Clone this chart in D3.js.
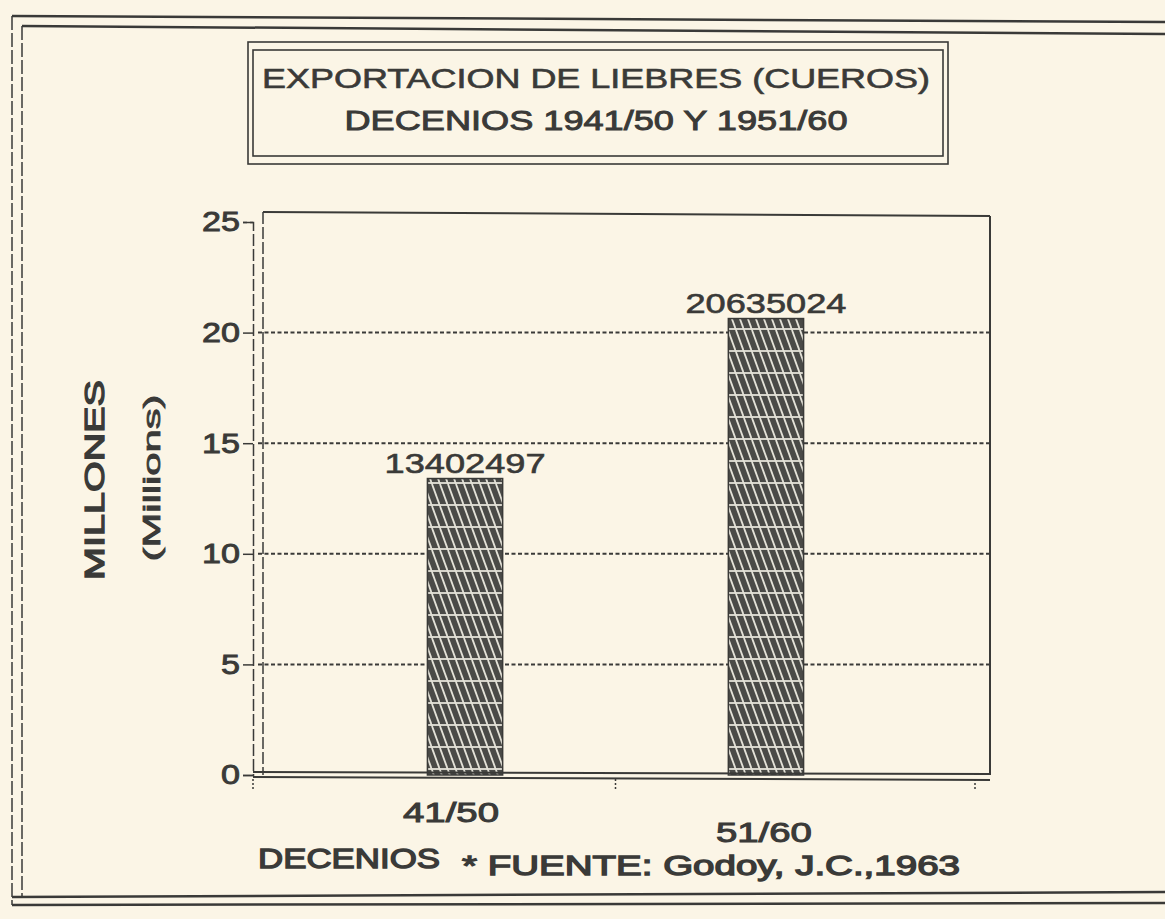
<!DOCTYPE html>
<html><head><meta charset="utf-8">
<script src="https://cdn.jsdelivr.net/npm/d3@7"></script>
<style>
html,body{margin:0;padding:0;background:#fbf5e6;}
svg{display:block;}
text{font-family:"Liberation Sans",Arial,sans-serif;fill:#3a3a38;}
</style></head>
<body>
<svg id="c" width="1165" height="919"></svg>
<script>
const categories = ["41/50", "51/60"];
const values = [13402497, 20635024];
const yTicks = [0, 5, 10, 15, 20, 25];
const titleLines = ["EXPORTACION DE LIEBRES (CUEROS)", "DECENIOS 1941/50 Y 1951/60"];

const svg = d3.select("#c");
const ink = "#3a3a38";

function txt(g, x, y, s, size, len, anchor, sw){
  const t = g.append("text").attr("x",x).attr("y",y).attr("font-size",size)
    .attr("text-anchor",anchor||"start")
    .attr("stroke",ink).attr("stroke-width",sw||0.6).text(s);
  if (len) t.attr("textLength",len).attr("lengthAdjust","spacingAndGlyphs");
  return t;
}

// pattern for bars
const defs = svg.append("defs");
const pat = defs.append("pattern").attr("id","hatch").attr("patternUnits","userSpaceOnUse")
  .attr("width",8).attr("height",22);
pat.append("rect").attr("width",8).attr("height",22).attr("fill","#4a4a47");
[-16,-8,0,8,16].forEach(o=>{
  pat.append("line").attr("x1",o).attr("y1",0).attr("x2",o+8).attr("y2",22)
    .attr("stroke","#e4e2d8").attr("stroke-width",1.8);
});
pat.append("line").attr("x1",0).attr("y1",21).attr("x2",8).attr("y2",21).attr("stroke","#e4e2d8").attr("stroke-width",1.8);

// outer frame
svg.append("line").attr("x1",12).attr("x2",1165).attr("y1",16).attr("y2",22).attr("stroke",ink).attr("stroke-width",2.5);
svg.append("line").attr("x1",22).attr("x2",1165).attr("y1",26).attr("y2",34).attr("stroke",ink).attr("stroke-width",2.5);
svg.append("line").attr("x1",12).attr("x2",12).attr("y1",16).attr("y2",905).attr("stroke",ink).attr("stroke-width",1.5).attr("stroke-dasharray","14,3");
svg.append("line").attr("x1",22).attr("x2",22).attr("y1",26).attr("y2",897).attr("stroke",ink).attr("stroke-width",1.5).attr("stroke-dasharray","14,3");
svg.append("line").attr("x1",12).attr("x2",1165).attr("y1",897).attr("y2",892).attr("stroke",ink).attr("stroke-width",2.5);
svg.append("line").attr("x1",12).attr("x2",1165).attr("y1",905).attr("y2",903).attr("stroke",ink).attr("stroke-width",2.5);

// title box
const tb = {x:248, y:42, w:700, h:122};
svg.append("rect").attr("x",tb.x).attr("y",tb.y).attr("width",tb.w).attr("height",tb.h).attr("fill","none").attr("stroke",ink).attr("stroke-width",1.6);
svg.append("rect").attr("x",tb.x+5).attr("y",tb.y+8).attr("width",tb.w-10).attr("height",tb.h-16).attr("fill","none").attr("stroke",ink).attr("stroke-width",1.6);
const tg = svg.append("g");
txt(tg, 596, 88, titleLines[0], 27, 668, "middle");
txt(tg, 596, 130, titleLines[1], 27, 503, "middle", 0.9);

// scales
const m = {left:258, right:990, top:222, bottom:775};
const y = d3.scaleLinear().domain([0,25]).range([m.bottom, m.top]);
const x = d3.scaleBand().domain(categories).range([m.left, 973]).paddingInner(0.75).paddingOuter(0.563);

// grid
svg.append("g").selectAll("line").data(yTicks.filter(t=>t>0&&t<25)).join("line")
  .attr("x1",m.left).attr("x2",m.right).attr("y1",d=>y(d)).attr("y2",d=>y(d))
  .attr("stroke",ink).attr("stroke-width",2).attr("stroke-dasharray","4,2.5");

// plot frame
svg.append("line").attr("x1",m.left+5).attr("x2",m.right).attr("y1",m.top-10).attr("y2",m.top-6).attr("stroke",ink).attr("stroke-width",2);
svg.append("line").attr("x1",m.right).attr("x2",m.right).attr("y1",m.top-6).attr("y2",m.bottom).attr("stroke",ink).attr("stroke-width",2);

// bars
svg.append("g").selectAll("rect").data(values).join("rect")
  .attr("x",(d,i)=>x(categories[i])).attr("width",x.bandwidth())
  .attr("y",d=>y(d/1e6)).attr("height",d=>y(0)-y(d/1e6))
  .attr("fill","url(#hatch)").attr("stroke",ink).attr("stroke-width",1.5);
const vg = svg.append("g");
values.forEach((v,i)=>txt(vg, x(categories[i])+x.bandwidth()/2, y(v/1e6)-6, String(v), 27, 161, "middle"));

// y axis (double line)
const yAxis = d3.axisLeft(y).tickValues(yTicks).tickSize(10).tickPadding(3);
const gy = svg.append("g").attr("transform",`translate(${m.left-5},0)`).call(yAxis);
gy.select(".domain").attr("stroke",ink).attr("stroke-width",1.5).attr("stroke-dasharray","12,3");
gy.selectAll(".tick line").attr("stroke",ink).attr("stroke-width",1.5);
gy.selectAll(".tick text").attr("font-size",28).attr("fill",ink).attr("stroke",ink).attr("stroke-width",0.9)
  .attr("font-family","Liberation Sans, Arial, sans-serif")
  .attr("textLength",d=>String(d).length*19).attr("lengthAdjust","spacingAndGlyphs");
svg.append("line").attr("x1",m.left+5).attr("x2",m.left+5).attr("y1",m.top-10).attr("y2",m.bottom).attr("stroke",ink).attr("stroke-width",1.5).attr("stroke-dasharray","12,3");

// x axis
svg.append("line").attr("x1",m.left-5).attr("x2",m.right).attr("y1",m.bottom-3).attr("y2",m.bottom-1).attr("stroke",ink).attr("stroke-width",2);
svg.append("line").attr("x1",m.left-5).attr("x2",m.right).attr("y1",m.bottom+2).attr("y2",m.bottom+5).attr("stroke",ink).attr("stroke-width",2);
const xb = [m.left-5, (x(categories[0])+x.bandwidth()+x(categories[1]))/2, 975];
svg.append("g").selectAll("line").data(xb).join("line")
  .attr("x1",d=>d).attr("x2",d=>d).attr("y1",m.bottom+4).attr("y2",m.bottom+16)
  .attr("stroke",ink).attr("stroke-width",1.5).attr("stroke-dasharray","2,2");
const cg = svg.append("g");
categories.forEach((c,i)=>txt(cg, x(c)+x.bandwidth()/2 - 14 + i*12, 822+i*20, c, 28, 96, "middle", 1));

// axis titles
txt(svg.append("g").attr("transform","translate(104,480) rotate(-90)"), 0, 0, "MILLONES", 28, 200, "middle", 1.3);
txt(svg.append("g").attr("transform","translate(160,478) rotate(-90)"), 0, 0, "(Millions)", 24, 167, "middle", 0.8);

txt(svg.append("g"), 258, 868, "DECENIOS", 27, 182, "start", 1.3);
txt(svg.append("g"), 462, 875, "* FUENTE: Godoy, J.C.,1963", 27, 498, "start", 1.3);
</script>
</body></html>
